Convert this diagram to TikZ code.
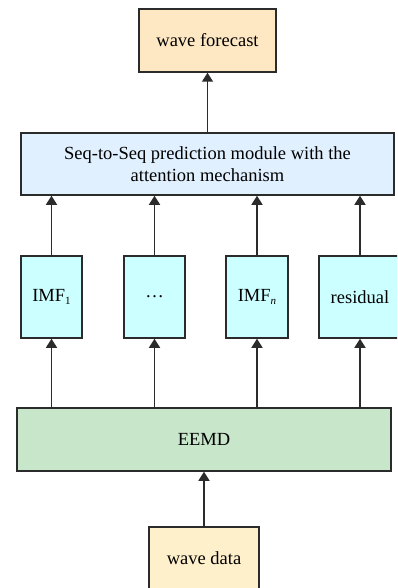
\documentclass[tikz,border=0pt]{standalone}
\usepackage{fontspec}
\setmainfont{Liberation Serif}
\usetikzlibrary{arrows.meta}
\definecolor{boxline}{HTML}{2B2B2B}
\definecolor{orangefill}{HTML}{FDE8C3}
\definecolor{datafill}{HTML}{FFF0CC}
\definecolor{bluefill}{HTML}{E0F0FE}
\definecolor{cyanfill}{HTML}{CCFFFF}
\definecolor{greenfill}{HTML}{C7E6CA}
\newcommand{\smallsub}[1]{\raisebox{-0.35ex}{\fontsize{11}{12}\selectfont #1}}
\tikzset{
  box/.style={draw=boxline, line width=1.5pt, inner sep=0pt, align=center,
    font=\fontsize{18.5}{22}\selectfont},
  arr/.style={draw=boxline, line width=1.5pt, -{Triangle[length=9pt,width=11pt]}},
}
\begin{document}
\begin{tikzpicture}[x=1pt,y=-1pt]
\clip (0,0) rectangle (397,588);
\useasboundingbox (0,0) rectangle (397,588);
\fill[white] (0,0) rectangle (397,588);
\node[box, fill=orangefill, minimum width=137pt, minimum height=63pt] (fc) at (207.5,40.5) {wave forecast};
\node[box, fill=bluefill, minimum width=373pt, minimum height=62pt] (seq) at (207.5,164) {Seq-to-Seq prediction module with the\\attention mechanism};
\node[box, fill=cyanfill, minimum width=61pt, minimum height=82pt] (imf1) at (51.5,297) {IMF\smallsub{1}};
\node[box, fill=cyanfill, minimum width=61pt, minimum height=82pt] (dots) at (154.5,297) {\ldots};
\node[box, fill=cyanfill, minimum width=62pt, minimum height=82pt] (imfn) at (257,297) {IMF\smallsub{\textit{n}}};
\node[box, fill=cyanfill, minimum width=82pt, minimum height=82pt] (res) at (360,297) {residual};
\node[box, fill=greenfill, minimum width=374pt, minimum height=63pt] (eemd) at (204,439.5) {EEMD};
\node[box, fill=datafill, minimum width=110pt, minimum height=63pt] (data) at (204,558.5) {wave data};
\draw[arr] (data.north) -- (eemd.south);
\foreach \n in {imf1,dots,imfn,res}{
  \draw[arr] (\n.south |- eemd.north) -- (\n.south);
  \draw[arr] (\n.north) -- (\n.north |- seq.south);
}
\draw[arr] (fc.south |- seq.north) -- (fc.south);
\end{tikzpicture}
\end{document}
